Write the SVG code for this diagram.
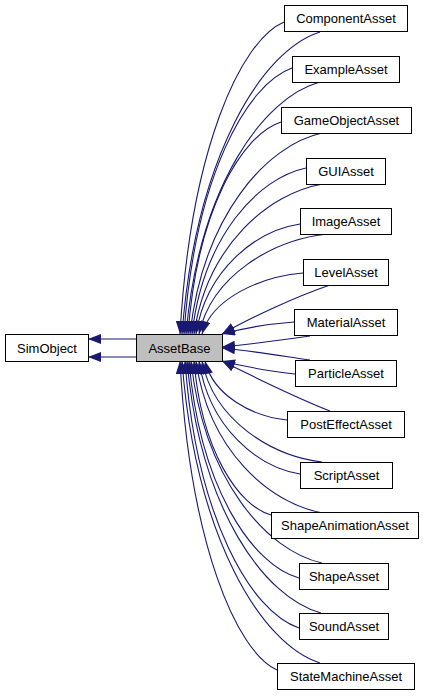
<svg xmlns="http://www.w3.org/2000/svg" width="427" height="696" viewBox="0 0 427 696">
<style>
.n rect{fill:#ffffff;stroke:#000000;stroke-width:1}
.n text{font-family:"Liberation Sans",Arial,sans-serif;font-size:13px;fill:#000000;text-anchor:middle}
#AssetBase rect{fill:#bfbfbf}
.e path{fill:none;stroke:#191970;stroke-width:1.1;marker-end:url(#ah)}
</style>
<defs>
<marker id="ah" markerUnits="userSpaceOnUse" markerWidth="13" markerHeight="10" refX="13" refY="5" orient="auto" viewBox="0 0 13 10">
<path d="M0,0 L13,5 L0,10 Z" fill="#191970"/>
</marker>
</defs>
<rect width="427" height="696" fill="#ffffff"/>
<g id="edges" class="e">
<path d="M136,339 L88,339"/>
<path d="M136,357 L88,357"/>
<path d="M284,22 C240.3,40.7 190.4,149.9 180,334"/>
<path d="M320,32 C262,50 195.8,155.8 182,334"/>
<path d="M292,68 C246.6,84 194.8,177 184,334"/>
<path d="M320,82 C263.7,97.1 199.4,185.3 186,334"/>
<path d="M281,122 C242,134.7 197.3,208.9 188,334"/>
<path d="M322,133 C266.6,145.1 203.2,215.4 190,334"/>
<path d="M306,168 C258.1,178 203.4,236.1 192,334"/>
<path d="M323,184 C268.8,193 206.9,245.5 194,334"/>
<path d="M300,224 C256.3,230.6 206.4,269.1 196,334"/>
<path d="M327,234 C273.2,240 211.8,275 199,334"/>
<path d="M303,273 C260.6,276.7 212.1,298 202,334"/>
<path d="M330,285 C295,297 250,318 222,334"/>
<path d="M294,322 C268,324 244,328 222,334"/>
<path d="M310,336 C282,340 252,344 222,347"/>
<path d="M310,360 C282,356 252,351 222,348"/>
<path d="M295,374 C270,371 245,367 222,361"/>
<path d="M330,411 C292,396 252,376 222,361"/>
<path d="M287,420 C252.6,416.5 213.2,395.8 205,361"/>
<path d="M322,462 C271.6,456 214,420.6 202,361"/>
<path d="M300,474 C257.6,467.2 209.1,427.7 199,361"/>
<path d="M323,513 C269.7,503.9 208.7,450.7 196,361"/>
<path d="M271,515 C238.7,505.8 201.7,451.9 194,361"/>
<path d="M322,563 C267,550.9 204.1,480.2 191,361"/>
<path d="M299,578 C252.8,565 200,489 189,361"/>
<path d="M321,613 C264.7,597.9 200.4,509.7 187,361"/>
<path d="M299,628 C251.1,612 196.4,518.5 185,361"/>
<path d="M320,663 C262,644.9 195.8,539.2 182,361"/>
<path d="M277,670 C236.3,651.5 189.7,543.3 180,361"/>
</g>
<g id="SimObject" class="n"><rect x="5.5" y="334.5" width="83" height="27"/><text x="47" y="352.5">SimObject</text></g>
<g id="AssetBase" class="n"><rect x="136.5" y="334.5" width="86" height="27"/><text x="179.5" y="352.5">AssetBase</text></g>
<g id="ComponentAsset" class="n"><rect x="284.5" y="5.5" width="123" height="26"/><text x="346" y="23">ComponentAsset</text></g>
<g id="ExampleAsset" class="n"><rect x="292.5" y="56.5" width="107" height="26"/><text x="346" y="74">ExampleAsset</text></g>
<g id="GameObjectAsset" class="n"><rect x="281.5" y="107.5" width="130" height="26"/><text x="346.5" y="125">GameObjectAsset</text></g>
<g id="GUIAsset" class="n"><rect x="306.5" y="158.5" width="79" height="26"/><text x="346" y="176">GUIAsset</text></g>
<g id="ImageAsset" class="n"><rect x="300.5" y="208.5" width="91" height="26"/><text x="346" y="226">ImageAsset</text></g>
<g id="LevelAsset" class="n"><rect x="303.5" y="259.5" width="85" height="26"/><text x="346" y="277">LevelAsset</text></g>
<g id="MaterialAsset" class="n"><rect x="294.5" y="309.5" width="103" height="26"/><text x="346" y="327">MaterialAsset</text></g>
<g id="ParticleAsset" class="n"><rect x="295.5" y="360.5" width="101" height="26"/><text x="346" y="378">ParticleAsset</text></g>
<g id="PostEffectAsset" class="n"><rect x="287.5" y="411.5" width="117" height="26"/><text x="346" y="429">PostEffectAsset</text></g>
<g id="ScriptAsset" class="n"><rect x="300.5" y="462.5" width="92" height="26"/><text x="346.5" y="480">ScriptAsset</text></g>
<g id="ShapeAnimationAsset" class="n"><rect x="271.5" y="512.5" width="147" height="26"/><text x="345" y="530">ShapeAnimationAsset</text></g>
<g id="ShapeAsset" class="n"><rect x="299.5" y="563.5" width="89" height="26"/><text x="344" y="581">ShapeAsset</text></g>
<g id="SoundAsset" class="n"><rect x="299.5" y="613.5" width="89" height="26"/><text x="344" y="631">SoundAsset</text></g>
<g id="StateMachineAsset" class="n"><rect x="277.5" y="663.5" width="137" height="26"/><text x="346" y="681">StateMachineAsset</text></g>
</svg>
